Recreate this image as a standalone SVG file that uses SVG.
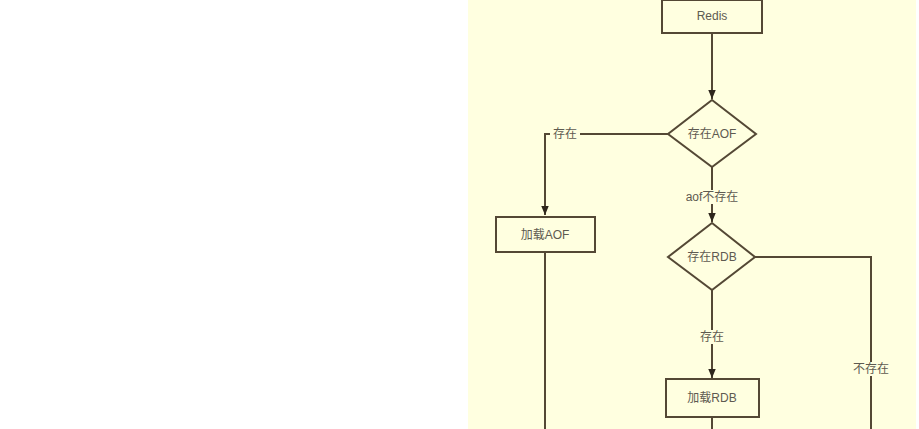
<svg xmlns="http://www.w3.org/2000/svg" width="919" height="429" viewBox="0 0 919 429">
<style>
.bg{fill:#ffffe0}
.shape{fill:#ffffe0;stroke:#544835;stroke-width:2}
.edge{fill:none;stroke:#544835;stroke-width:2}
.t{font-family:"Liberation Sans","Noto Sans CJK SC",sans-serif;font-size:12px;fill:#5e5a50;text-anchor:middle;dominant-baseline:central}
.lbl{fill:#ffffe0}
</style>
<defs>
<marker id="arr" markerWidth="9" markerHeight="13" refX="12" refY="5" orient="auto" markerUnits="userSpaceOnUse" viewBox="0 0 12 10">
<path d="M0,0 L12,5 L0,10 Z" fill="#2e261c"/>
</marker>
</defs>
<rect x="0" y="0" width="919" height="429" fill="#ffffff"/>
<rect class="bg" x="468" y="0" width="448" height="429"/>
<g id="connectors">
<line class="edge" x1="712" y1="33" x2="712" y2="99" marker-end="url(#arr)"/>
<polyline class="edge" points="668,134 545,134 545,215" marker-end="url(#arr)"/>
<line class="edge" x1="545" y1="252" x2="545" y2="429"/>
<line class="edge" x1="712" y1="167" x2="712" y2="222" marker-end="url(#arr)"/>
<line class="edge" x1="712" y1="290" x2="712" y2="378" marker-end="url(#arr)"/>
<polyline class="edge" points="755,257 871,257 871,429"/>
<line class="edge" x1="712" y1="417" x2="712" y2="429"/>
<rect class="lbl" x="550" y="127" width="30" height="14"/>
<text class="t" x="565" y="134">存在</text>
<rect class="lbl" x="680" y="190" width="64" height="14"/>
<text class="t" x="712" y="197">aof不存在</text>
<rect class="lbl" x="697" y="330" width="30" height="14"/>
<text class="t" x="712" y="337">存在</text>
<rect class="lbl" x="849" y="362" width="44" height="14"/>
<text class="t" x="871" y="369">不存在</text>
</g>
<g id="redis">
<rect class="shape" x="662" y="0" width="100" height="33"/>
<text class="t" x="712" y="16">Redis</text>
</g>
<g id="aof-check">
<polygon class="shape" points="712,100 756,134 712,167 668,134"/>
<text class="t" x="712" y="134">存在AOF</text>
</g>
<g id="load-aof">
<rect class="shape" x="496" y="217" width="99" height="35"/>
<text class="t" x="545" y="235">加载AOF</text>
</g>
<g id="rdb-check">
<polygon class="shape" points="712,223 755,257 712,290 668,257"/>
<text class="t" x="712" y="257">存在RDB</text>
</g>
<g id="load-rdb">
<rect class="shape" x="666" y="379" width="93" height="38"/>
<text class="t" x="712" y="398">加载RDB</text>
</g>
</svg>
